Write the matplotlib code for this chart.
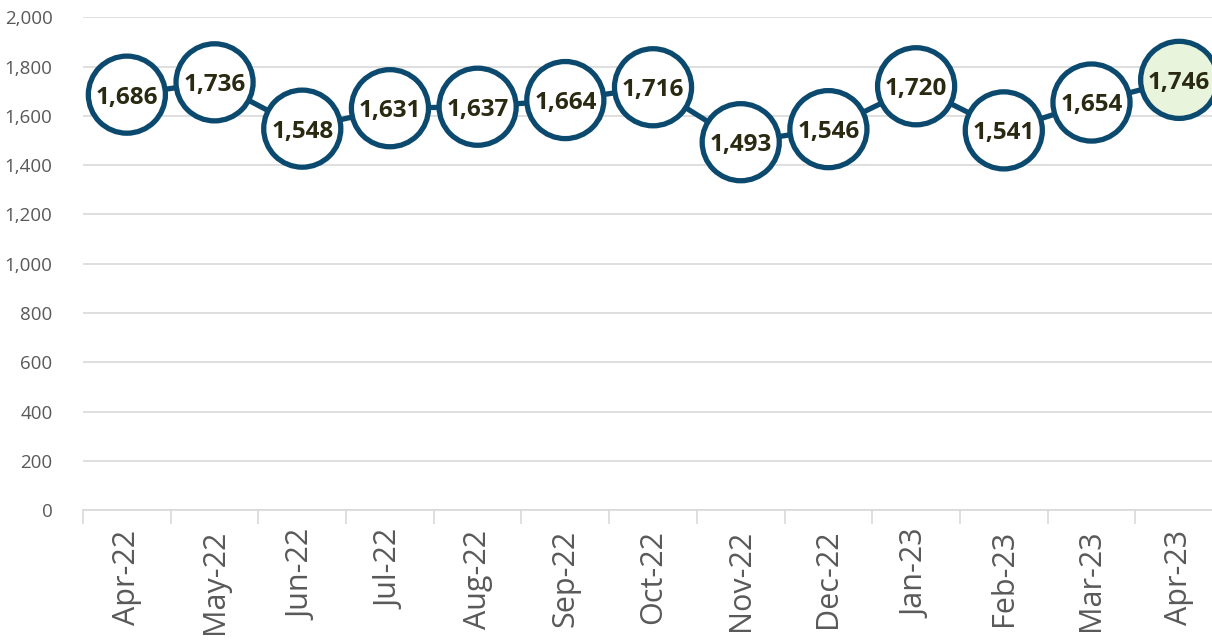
import matplotlib.pyplot as plt
import numpy as np

plt.rcParams['font.family'] = ['Open Sans', 'DejaVu Sans']

months = ['Apr-22', 'May-22', 'Jun-22', 'Jul-22', 'Aug-22', 'Sep-22', 'Oct-22',
          'Nov-22', 'Dec-22', 'Jan-23', 'Feb-23', 'Mar-23', 'Apr-23']
values = [1686, 1736, 1548, 1631, 1637, 1664, 1716, 1493, 1546, 1720, 1541, 1654, 1746]

navy = '#0b4a6e'
grey_txt = '#595959'
grid_c = '#d9d9d9'

fig = plt.figure(figsize=(12.12, 6.4), dpi=100)
ax = fig.add_axes([0.0685, 0.203, 0.9406, 0.770])

x = np.arange(len(months))
ax.plot(x, values, color=navy, lw=3.8, zorder=3, clip_on=False)
face = ['white'] * (len(values) - 1) + ['#e8f4dc']
ax.scatter(x, values, s=55.5**2, c=face, edgecolors=navy, linewidths=3.8,
           zorder=4, clip_on=False)
for xi, v in zip(x, values):
    ax.text(xi, v - 12, f'{v:,}', ha='center', va='center', fontsize=17.5,
            fontweight='bold', color='#2a2a12', zorder=5)

ax.set_xlim(-0.5, len(months) - 0.5)
ax.set_ylim(0, 2000)
ax.set_yticks(range(0, 2001, 200))
ax.yaxis.set_major_formatter(plt.FuncFormatter(lambda v, p: f'{int(v):,}'))
ax.grid(axis='y', color=grid_c, lw=1.2)
ax.set_axisbelow(True)

ax.set_xticks(x)
ax.set_xticklabels(months, rotation=90, fontsize=22, color=grey_txt)
ax.tick_params(axis='x', length=0, pad=14)
ax.set_xticks(np.arange(-0.5, len(months), 1), minor=True)
ax.tick_params(axis='x', which='minor', length=10, color=grid_c, width=1.2)
ax.tick_params(axis='y', length=0, labelsize=13.5, labelcolor=grey_txt, pad=22)
for lab in ax.get_yticklabels():
    lab.set_horizontalalignment('right')

for s in ['top', 'right', 'left']:
    ax.spines[s].set_visible(False)
ax.spines['bottom'].set_color(grid_c)
ax.spines['bottom'].set_linewidth(1.2)

fig.savefig('out.png', dpi=100)
